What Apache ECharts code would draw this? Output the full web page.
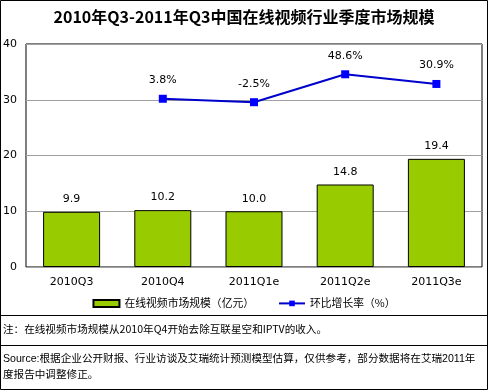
<!DOCTYPE html>
<html><head><meta charset="utf-8">
<script src="https://cdn.jsdelivr.net/npm/echarts@6/dist/echarts.min.js"></script>
<style>html,body{margin:0;padding:0;background:#fff}#c{width:488px;height:390px}</style>
</head><body><div id="c"></div>
<script>
const categories = ['2010Q3','2010Q4','2011Q1e','2011Q2e','2011Q3e'];
const marketSize = [9.9, 10.2, 10.0, 14.8, 19.4];
const growthRate = [null, 3.8, -2.5, 48.6, 30.9];
const yTicks = {min:0, max:40, interval:10};
const titleText = '2010年Q3-2011年Q3中国在线视频行业季度市场规模';
const seriesNames = ['在线视频市场规模（亿元）','环比增长率（%）'];
const noteText = '注：在线视频市场规模从2010年Q4开始去除互联星空和IPTV的收入。';
const sourceLine1 = 'Source:根据企业公开财报、行业访谈及艾瑞统计预测模型估算，仅供参考，部分数据将在艾瑞2011年';
const sourceLine2 = '度报告中调整修正。';

const font = '"DejaVu Sans","Noto Sans CJK SC",sans-serif';
const cjk = '"Noto Sans CJK SC","DejaVu Sans",sans-serif';
const srcFont = '"Liberation Sans","Noto Sans CJK SC",sans-serif';
const chart = echarts.init(document.getElementById('c'));
chart.setOption({
  animation:false,
  backgroundColor:'#fff',
  title:{text:titleText,left:'center',top:4,textStyle:{fontFamily:cjk,fontSize:16,fontWeight:'bold',color:'#000'}},
  grid:{left:24,right:6,top:44,bottom:123,show:true,borderColor:'#000',borderWidth:1,backgroundColor:'#fff'},
  legend:{top:293,left:'center',itemWidth:26,itemHeight:7,itemGap:24,
    textStyle:{fontFamily:cjk,fontSize:10.8,color:'#000'},
    data:[{name:seriesNames[0],icon:'rect'},{name:seriesNames[1]}]},
  xAxis:{type:'category',data:categories,
    axisLine:{show:false},axisTick:{show:false},
    axisLabel:{fontFamily:font,fontSize:11,color:'#000',margin:10}},
  yAxis:[{type:'value',min:yTicks.min,max:yTicks.max,interval:yTicks.interval,
    axisLine:{show:false},axisTick:{show:false},
    axisLabel:{fontFamily:font,fontSize:11,color:'#000',margin:9},
    splitLine:{lineStyle:{color:'#a0a0a0',width:1}}},
    {type:'value',min:-304,max:104,show:false,splitLine:{show:false}}],
  series:[
    {name:seriesNames[0],type:'bar',data:marketSize,barWidth:57,
      itemStyle:{color:'#99CC00',borderColor:'#000',borderWidth:1},
      label:{show:true,position:'top',distance:7,fontFamily:font,fontSize:11,color:'#000',formatter:p=>p.value.toFixed(1)}},
    {name:seriesNames[1],type:'line',yAxisIndex:1,data:growthRate,
      symbol:'rect',symbolSize:8,connectNulls:false,
      lineStyle:{color:'#0000CC',width:2},itemStyle:{color:'#0000FF'},
      label:{show:true,position:'top',distance:9,fontFamily:font,fontSize:11,color:'#000',formatter:p=>p.value.toFixed(1)+'%'}}
  ],
  graphic:[
    {type:'rect',shape:{x:0.5,y:0.5,width:487,height:389},style:{fill:null,stroke:'#000',lineWidth:1},z:100},
    {type:'line',shape:{x1:0,y1:315.5,x2:488,y2:315.5},style:{stroke:'#000',lineWidth:1}},
    {type:'line',shape:{x1:0,y1:345.5,x2:488,y2:345.5},style:{stroke:'#000',lineWidth:1}},
    {type:'text',left:3,top:324,style:{text:noteText,font:'10.6px '+cjk,fill:'#000'}},
    {type:'text',left:3,top:354,style:{text:sourceLine1,font:'10.6px '+srcFont,fill:'#000'}},
    {type:'text',left:3,top:370,style:{text:sourceLine2,font:'10.6px '+srcFont,fill:'#000'}}
  ]
});
</script></body></html>
